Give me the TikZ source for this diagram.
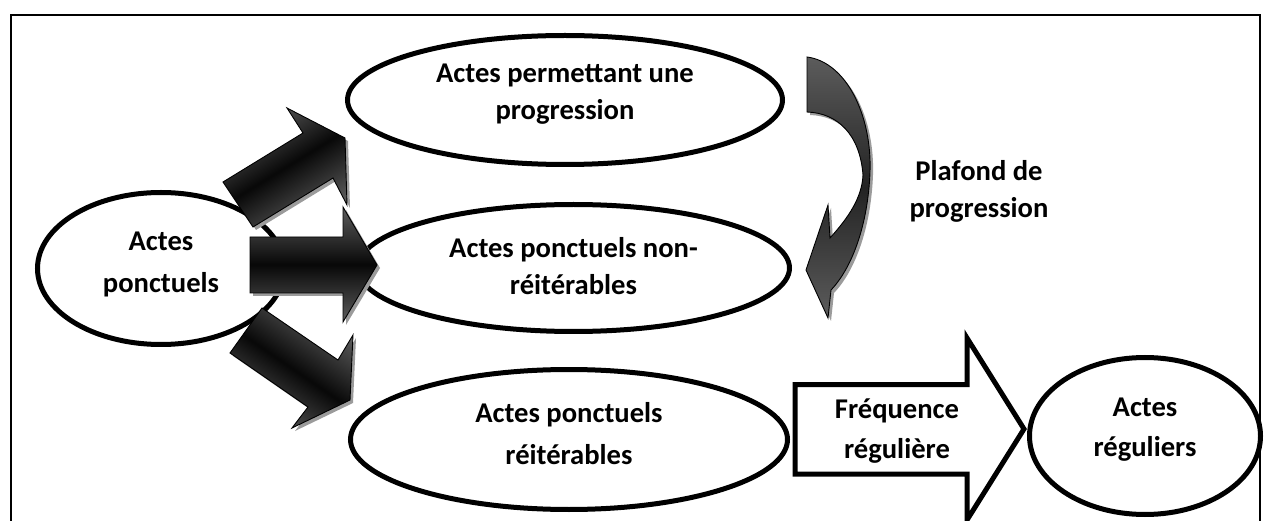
\documentclass[tikz,border=0pt]{standalone}
\usepackage{fontspec}
\setmainfont{Carlito}
\usetikzlibrary{shapes.geometric}
\definecolor{edgegray}{RGB}{92,92,92}
\definecolor{coregray}{RGB}{8,8,8}
\definecolor{shadowgray}{RGB}{155,155,155}
\definecolor{curvegray}{RGB}{92,92,92}
\definecolor{curvedark}{RGB}{35,35,35}
\begin{document}
\begin{tikzpicture}[x=1pt,y=-1pt,
  ell/.style={ellipse, draw, line width=5pt, fill=white, inner sep=0pt},
  lbl/.style={align=center, inner sep=0pt, font=\bfseries\fontsize{28.6}{#1}\selectfont},
  lbl/.default=37,
  darrow/.style={draw=black, line width=0.9pt, line join=miter,
     top color=edgegray, bottom color=edgegray, middle color=coregray},
  shadowfill/.style={fill=shadowgray, draw=none},
  warrow/.style={draw=black, line width=5pt, fill=white, line join=miter}
]
\useasboundingbox (0,0) rectangle (1264,521);
% frame
\draw[line width=2pt] (11,540) -- (11,15) -- (1260,15) -- (1260,540);

% ellipses
\node[ell, minimum width=247pt, minimum height=152pt] (ap) at (161,268.5) {};
\node[ell, minimum width=435pt, minimum height=129pt] (prog) at (565,100) {};
\node[ell, minimum width=432pt, minimum height=127pt] (nonreit) at (573.5,268) {};
\node[ell, minimum width=437pt, minimum height=140pt] (reit) at (569,439.5) {};
\node[ell, minimum width=231pt, minimum height=157pt] (reg) at (1145,436) {};

\node[lbl=42] (ap-t) at ([yshift=4.5pt]ap.center) {Actes\\ponctuels};
\node[lbl] (prog-t) at ([yshift=5.5pt]prog.center) {Actes permettant une\\progression};
\node[lbl] (nonreit-t) at ([yshift=1.5pt]nonreit.center) {Actes ponctuels non-\\réitérables};
\node[lbl=42] (reit-t) at ([yshift=5.5pt]reit.center) {Actes ponctuels\\réitérables};
\node[lbl=40] (reg-t) at ([yshift=6pt]reg.center) {Actes\\réguliers};

% dark block arrows (with shadows)
\fill[shadowfill, shift={(3,3)}] (223,182) -- (303,133) -- (287,108) -- (345,138) -- (347,205) -- (333,178) -- (253,227) -- cycle;
\path[darrow, shading angle=31.5] (223,182) -- (303,133) -- (287,108) -- (345,138) -- (347,205) -- (333,178) -- (253,227) -- cycle;

\fill[shadowfill, shift={(3,3)}] (250,237) -- (343,237) -- (343,207) -- (377,265) -- (343,322) -- (343,293) -- (250,293) -- cycle;
\path[darrow] (250,237) -- (343,237) -- (343,207) -- (377,265) -- (343,322) -- (343,293) -- (250,293) -- cycle;

\fill[shadowfill, shift={(3,3)}] (262,308) -- (338,360) -- (353,335) -- (350,400) -- (292,428) -- (308,407) -- (230,353) -- cycle;
\path[darrow, shading angle=-34.4] (262,308) -- (338,360) -- (353,335) -- (350,400) -- (292,428) -- (308,407) -- (230,353) -- cycle;

% curved arrow
\fill[shadowfill, shift={(3,3)}] (807,57) .. controls (846,62) and (872,115) .. (870,172) .. controls (868,225) and (852,268) .. (831,290) -- (828,318) -- (806,270) -- (828,205) -- (830,238) .. controls (848,218) and (862,198) .. (863,175) .. controls (860,135) and (838,113) .. (807,112) -- cycle;
\path[draw=black, line width=0.9pt, top color=curvegray, bottom color=curvegray, middle color=curvedark] (807,57) .. controls (846,62) and (872,115) .. (870,172) .. controls (868,225) and (852,268) .. (831,290) -- (828,318) -- (806,270) -- (828,205) -- (830,238) .. controls (848,218) and (862,198) .. (863,175) .. controls (860,135) and (838,113) .. (807,112) -- cycle;

\node[lbl] (plafond) at (979,191) {Plafond de\\progression};

% white block arrow
\draw[warrow] (795,384.5) -- (967,384.5) -- (967,338) -- (1024,429) -- (967,520) -- (967,474) -- (795,474) -- cycle;
\node[lbl=40] (freq) at (897,431) {Fréquence\\régulière};
\end{tikzpicture}
\end{document}
